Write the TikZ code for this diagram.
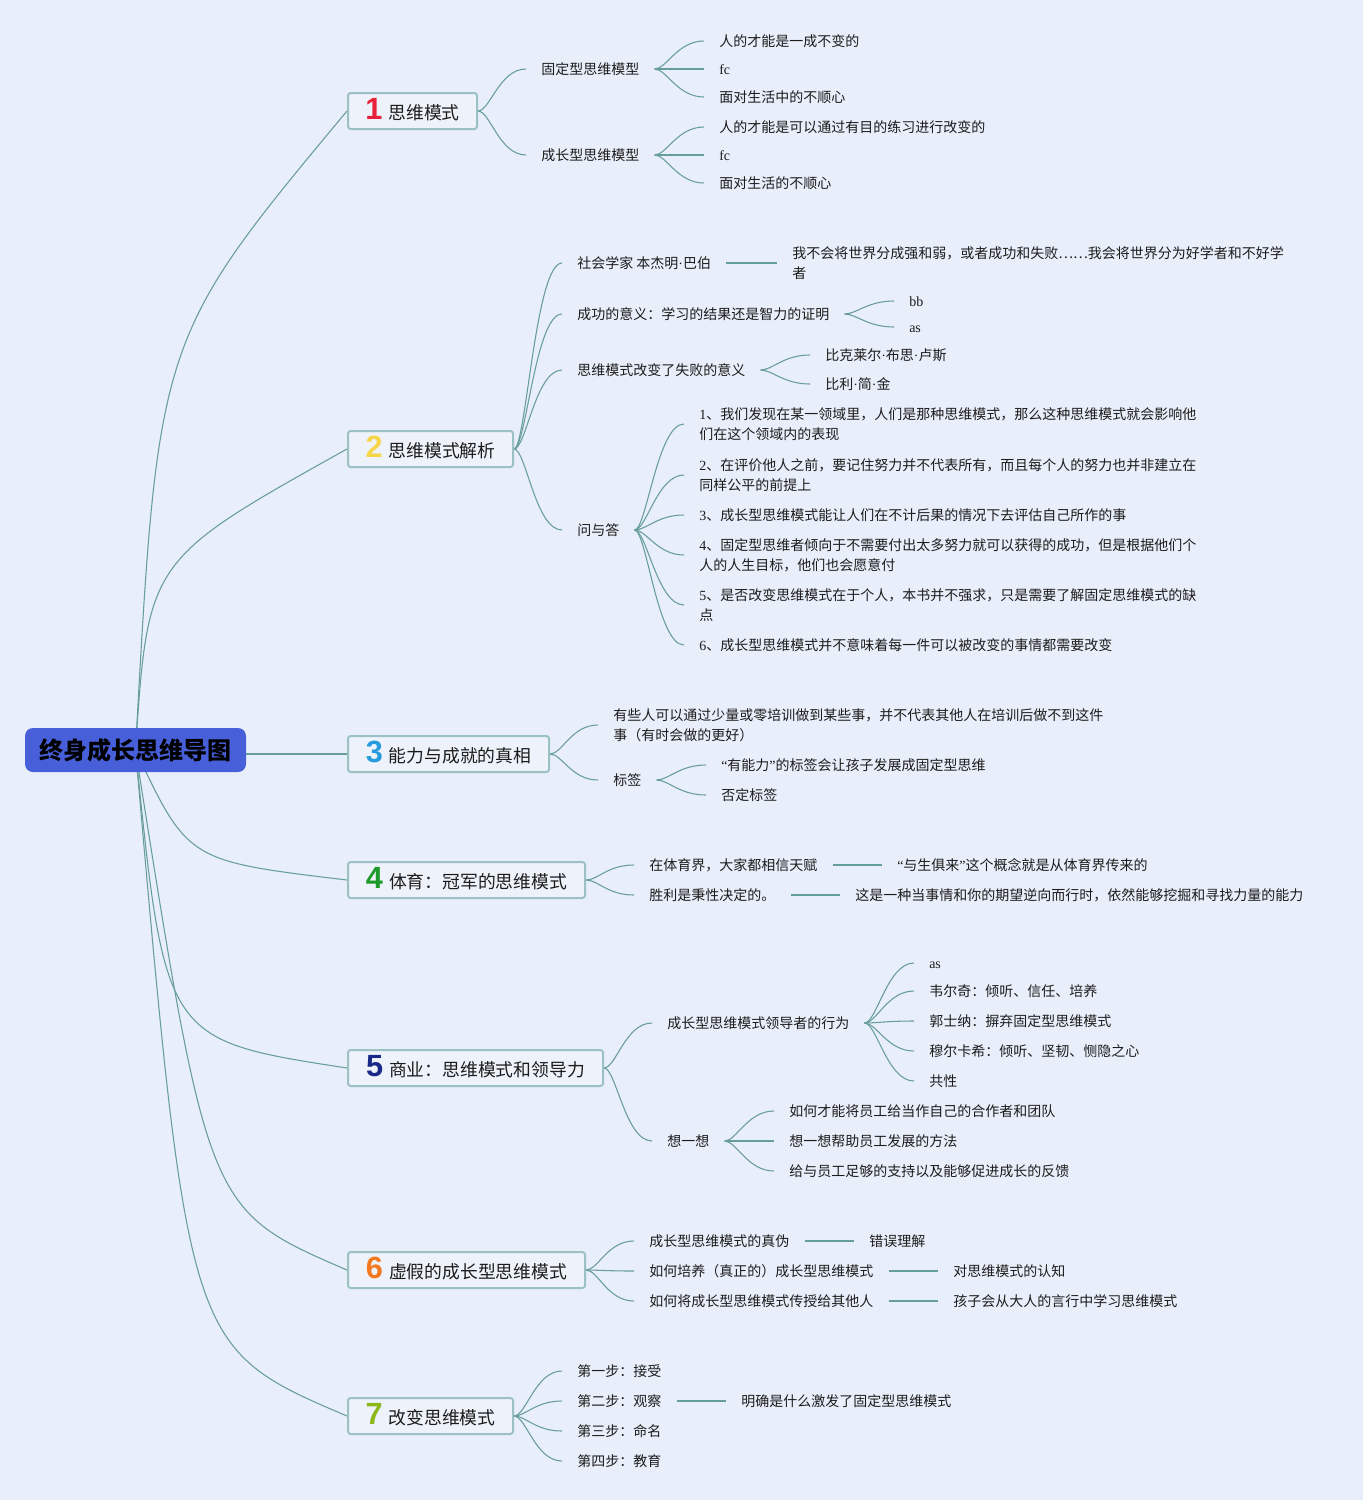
\documentclass[tikz,border=0pt]{standalone}
\usepackage{fontspec}
\setmainfont{Liberation Serif}
\newfontfamily\cjk{Noto Sans CJK SC}
\newfontfamily\digf{Liberation Sans}
\usetikzlibrary{backgrounds}
\definecolor{bgc}{RGB}{232,238,250}
\definecolor{linkc}{RGB}{104,158,154}
\definecolor{boxline}{RGB}{156,193,196}
\definecolor{boxfill}{RGB}{238,243,251}
\definecolor{rootc}{RGB}{72,95,218}
\definecolor{txtc}{RGB}{28,28,28}
\definecolor{dA}{RGB}{232,32,58}
\definecolor{dB}{RGB}{246,214,72}
\definecolor{dC}{RGB}{40,155,222}
\definecolor{dD}{RGB}{30,154,44}
\definecolor{dE}{RGB}{26,40,138}
\definecolor{dF}{RGB}{244,120,30}
\definecolor{dG}{RGB}{140,184,26}
\newcommand\bodyf{\cjk\fontsize{10.5}{15}\selectfont}
\newcommand\topicf{\cjk\fontsize{13.35}{16}\selectfont}
\newcommand\digit[2]{{\digf\bfseries\fontsize{23}{23}\selectfont\color{#1}#2}\hspace{4.5pt}}
\newcommand\mmdot{{\rmfamily ·}}
\newcommand\mmlq{{\rmfamily “}}
\newcommand\mmrq{{\rmfamily ”}}
\begin{document}
\begin{tikzpicture}[x=0.75pt,y=-0.75pt,
  link/.style={draw=linkc,line width=0.8pt},
  crv/.style={out=0,in=180,out distance=9pt,in distance=20pt},
  txt/.style={anchor=west,inner xsep=11.25pt,inner ysep=0pt,font=\bodyf,text=txtc,text height=9.1pt,text depth=1.3pt},
  txtm/.style={anchor=west,inner xsep=11.25pt,inner ysep=0pt,font=\bodyf,text=txtc,align=left},
  lat/.style={font=\rmfamily\fontsize{10.5}{15}\selectfont},
  topic/.style={anchor=west,draw=boxline,line width=1.5pt,fill=boxfill,rounded corners=2pt,minimum height=27pt,inner xsep=0pt,inner ysep=1pt,text=txtc,text height=16.5pt,text depth=4.5pt},
  root/.style={fill=rootc,rounded corners=6pt,minimum width=165.75pt,minimum height=33pt,font=\cjk\bfseries\fontsize{18}{20}\selectfont,text=black}
]
\useasboundingbox (0,0) rectangle (1363,1500);
\node[root] (root) at (135.5,750) {终身成长思维导图};

% topics
\node[topic,minimum width=96.75pt] (b1) at (347,111) {\digit{dA}{1}{\topicf 思维模式}};
\node[topic,minimum width=123.75pt] (b2) at (347,449) {\digit{dB}{2}{\topicf 思维模式解析}};
\node[topic,minimum width=150.75pt] (b3) at (347,754) {\digit{dC}{3}{\topicf 能力与成就的真相}};
\node[topic,minimum width=177.75pt] (b4) at (347,880) {\digit{dD}{4}{\topicf 体育：冠军的思维模式}};
\node[topic,minimum width=191.25pt] (b5) at (347,1068) {\digit{dE}{5}{\topicf 商业：思维模式和领导力}};
\node[topic,minimum width=177.75pt] (b6) at (347,1270) {\digit{dF}{6}{\topicf 虚假的成长型思维模式}};
\node[topic,minimum width=123.75pt] (b7) at (347,1416) {\digit{dG}{7}{\topicf 改变思维模式}};

% branch 1
\node[txt] (n11) at (526,69) {固定型思维模型};
\node[txt] (n12) at (526,155) {成长型思维模型};
\node[txt] (n111) at (704,41) {人的才能是一成不变的};
\node[txt,lat] (n112) at (704,69) {fc};
\node[txt] (n113) at (704,97) {面对生活中的不顺心};
\node[txt] (n121) at (704,127) {人的才能是可以通过有目的练习进行改变的};
\node[txt,lat] (n122) at (704,155) {fc};
\node[txt] (n123) at (704,183) {面对生活的不顺心};

% branch 2
\node[txt] (n21) at (562,263) {社会学家 本杰明\mmdot 巴伯};
\node[txtm] (n211) at (777,263) {我不会将世界分成强和弱，或者成功和失败……我会将世界分为好学者和不好学\\者};
\node[txt] (n22) at (562,314) {成功的意义：学习的结果还是智力的证明};
\node[txt,lat] (n221) at (894,301) {bb};
\node[txt,lat] (n222) at (894,327) {as};
\node[txt] (n23) at (562,370) {思维模式改变了失败的意义};
\node[txt] (n231) at (810,355) {比克莱尔\mmdot 布思\mmdot 卢斯};
\node[txt] (n232) at (810,384) {比利\mmdot 简\mmdot 金};
\node[txt] (n24) at (562,530) {问与答};
\node[txtm] (q1) at (684,424) {{\rmfamily 1}、我们发现在某一领域里，人们是那种思维模式，那么这种思维模式就会影响他\\们在这个领域内的表现};
\node[txtm] (q2) at (684,475) {{\rmfamily 2}、在评价他人之前，要记住努力并不代表所有，而且每个人的努力也并非建立在\\同样公平的前提上};
\node[txt] (q3) at (684,515) {{\rmfamily 3}、成长型思维模式能让人们在不计后果的情况下去评估自己所作的事};
\node[txtm] (q4) at (684,555) {{\rmfamily 4}、固定型思维者倾向于不需要付出太多努力就可以获得的成功，但是根据他们个\\人的人生目标，他们也会愿意付};
\node[txtm] (q5) at (684,605) {{\rmfamily 5}、是否改变思维模式在于个人，本书并不强求，只是需要了解固定思维模式的缺\\点};
\node[txt] (q6) at (684,645) {{\rmfamily 6}、成长型思维模式并不意味着每一件可以被改变的事情都需要改变};

% branch 3
\node[txtm] (n31) at (598,725) {有些人可以通过少量或零培训做到某些事，并不代表其他人在培训后做不到这件\\事（有时会做的更好）};
\node[txt] (n32) at (598,780) {标签};
\node[txt] (n321) at (706,765) {\mmlq 有能力\mmrq 的标签会让孩子发展成固定型思维};
\node[txt] (n322) at (706,795) {否定标签};

% branch 4
\node[txt] (n41) at (634,865) {在体育界，大家都相信天赋};
\node[txt] (n411) at (882,865) {\mmlq 与生俱来\mmrq 这个概念就是从体育界传来的};
\node[txt] (n42) at (634,895) {胜利是秉性决定的。};
\node[txt] (n421) at (840,895) {这是一种当事情和你的期望逆向而行时，依然能够挖掘和寻找力量的能力};

% branch 5
\node[txt] (n51) at (652,1023) {成长型思维模式领导者的行为};
\node[txt,lat] (n511) at (914,963) {as};
\node[txt] (n512) at (914,991) {韦尔奇：倾听、信任、培养};
\node[txt] (n513) at (914,1021) {郭士纳：摒弃固定型思维模式};
\node[txt] (n514) at (914,1051) {穆尔卡希：倾听、坚韧、恻隐之心};
\node[txt] (n515) at (914,1081) {共性};
\node[txt] (n52) at (652,1141) {想一想};
\node[txt] (n521) at (774,1111) {如何才能将员工给当作自己的合作者和团队};
\node[txt] (n522) at (774,1141) {想一想帮助员工发展的方法};
\node[txt] (n523) at (774,1171) {给与员工足够的支持以及能够促进成长的反馈};

% branch 6
\node[txt] (n61) at (634,1241) {成长型思维模式的真伪};
\node[txt] (n611) at (854,1241) {错误理解};
\node[txt] (n62) at (634,1271) {如何培养（真正的）成长型思维模式};
\node[txt] (n621) at (938,1271) {对思维模式的认知};
\node[txt] (n63) at (634,1301) {如何将成长型思维模式传授给其他人};
\node[txt] (n631) at (938,1301) {孩子会从大人的言行中学习思维模式};

% branch 7
\node[txt] (n71) at (562,1371) {第一步：接受};
\node[txt] (n72) at (562,1401) {第二步：观察};
\node[txt] (n721) at (726,1401) {明确是什么激发了固定型思维模式};
\node[txt] (n73) at (562,1431) {第三步：命名};
\node[txt] (n74) at (562,1461) {第四步：教育};

\begin{scope}[on background layer]
\fill[bgc] (0,0) rectangle (1363,1500);
\draw[link] (root.center) .. controls (158,338) .. (b1.west);
\draw[link] (root.center) .. controls (148,560) .. (b2.west);
\draw[link] (root.east |- b3.west) -- (b3.west);
\draw[link] (root.center) .. controls (188,861) .. (b4.west);
\draw[link] (root.center) .. controls (165,1040) .. (b5.west);
\draw[link] (root.center) .. controls (208,1210) .. (b6.west);
\draw[link] (root.center) .. controls (188,1348) .. (b7.west);
\foreach \p/\c in {b1/n11,b1/n12,n11/n111,n11/n112,n11/n113,n12/n121,n12/n122,n12/n123,
  b2/n21,b2/n22,b2/n23,b2/n24,n21/n211,n22/n221,n22/n222,n23/n231,n23/n232,
  n24/q1,n24/q2,n24/q3,n24/q4,n24/q5,n24/q6,
  b3/n31,b3/n32,n32/n321,n32/n322,
  b4/n41,b4/n42,n41/n411,n42/n421,
  b5/n51,b5/n52,n51/n511,n51/n512,n51/n513,n51/n514,n51/n515,n52/n521,n52/n522,n52/n523,
  b6/n61,b6/n62,b6/n63,n61/n611,n62/n621,n63/n631,
  b7/n71,b7/n72,b7/n73,b7/n74,n72/n721}
  \draw[link] (\p.east) to[crv] (\c.west);
\end{scope}
\end{tikzpicture}
\end{document}
